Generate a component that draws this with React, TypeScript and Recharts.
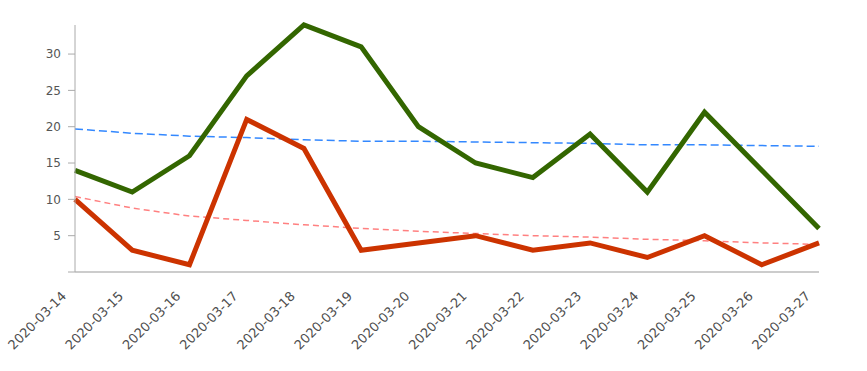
import React from 'react';
import { LineChart, Line, XAxis, YAxis } from 'recharts';

const dates = [
  '2020-03-14', '2020-03-15', '2020-03-16', '2020-03-17', '2020-03-18', '2020-03-19', '2020-03-20',
  '2020-03-21', '2020-03-22', '2020-03-23', '2020-03-24', '2020-03-25', '2020-03-26', '2020-03-27',
];
const greenValues = [14, 11, 16, 27, 34, 31, 20, 15, 13, 19, 11, 22, 14, 6];
const redValues = [10, 3, 1, 21, 17, 3, 4, 5, 3, 4, 2, 5, 1, 4];
const blueTrend = [19.7, 19.1, 18.7, 18.5, 18.2, 18.0, 18.0, 17.9, 17.8, 17.7, 17.5, 17.5, 17.4, 17.3];
const redTrend = [10.4, 8.8, 7.7, 7.1, 6.5, 6.0, 5.6, 5.3, 5.0, 4.8, 4.5, 4.3, 4.0, 3.8];
const yTicks = [0, 5, 10, 15, 20, 25, 30];

const data = dates.map((d, i) => ({
  date: d,
  green: greenValues[i],
  red: redValues[i],
  blueTrend: blueTrend[i],
  redTrend: redTrend[i],
}));

const FONT = '"DejaVu Sans", sans-serif';

const XTick = (props: any) => {
  const { x, y, payload } = props;
  const ax = x - 8;
  const ay = y + 17;
  return (
    <text
      x={ax}
      y={ay}
      textAnchor="end"
      fill="#4d4d4d"
      fontSize={13}
      fontFamily={FONT}
      transform={`rotate(-45, ${ax}, ${ay})`}
    >
      {payload.value}
    </text>
  );
};

export default function App() {
  return (
    <div style={{ position: 'absolute', left: 0, top: 0, width: 867, height: 371, background: '#fff' }}>
      <LineChart width={867} height={371} data={data} margin={{ top: 25, right: 48, left: 0, bottom: 0 }}>
        <XAxis
          dataKey="date"
          height={99}
          axisLine={{ stroke: '#999' }}
          tickLine={false}
          interval={0}
          tick={<XTick />}
        />
        <YAxis
          width={75}
          domain={[0, 'dataMax']}
          ticks={yTicks}
          tickFormatter={(v: number) => (v === 0 ? '' : String(v))}
          axisLine={{ stroke: '#aaa' }}
          tickLine={{ stroke: '#aaa' }}
          tickSize={7}
          tickMargin={7}
          tick={{ fill: '#555', fontSize: 12, fontFamily: FONT }}
        />
        <Line dataKey="blueTrend" stroke="#3388ff" strokeWidth={1.5} strokeDasharray="8 4" dot={false} isAnimationActive={false} />
        <Line dataKey="redTrend" stroke="#ff8080" strokeWidth={1.5} strokeDasharray="6 4" dot={false} isAnimationActive={false} />
        <Line dataKey="green" stroke="#336600" strokeWidth={5} dot={false} isAnimationActive={false} />
        <Line dataKey="red" stroke="#cc3300" strokeWidth={5} dot={false} isAnimationActive={false} />
      </LineChart>
    </div>
  );
}
